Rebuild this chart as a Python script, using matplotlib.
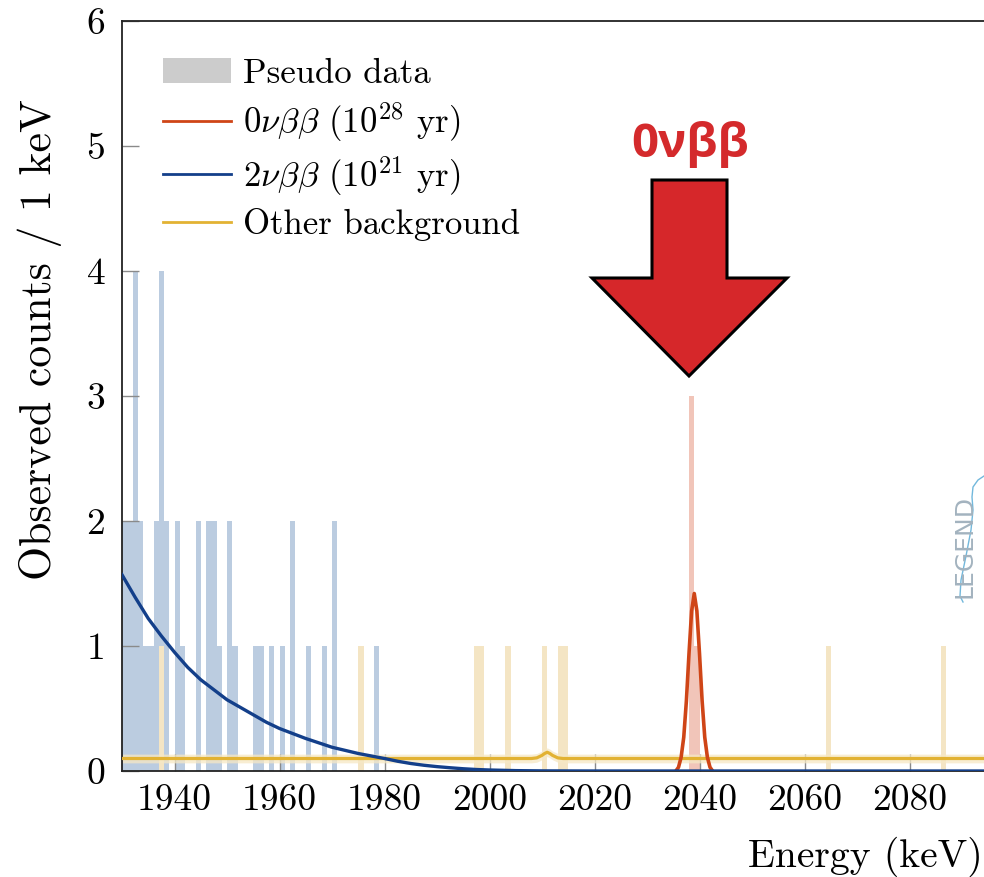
import numpy as np
import matplotlib
matplotlib.use("Agg")
import matplotlib.pyplot as plt
from matplotlib.patches import Polygon, Patch
from matplotlib.lines import Line2D

plt.rcParams['font.family'] = 'serif'
plt.rcParams['font.serif'] = ['cmr10']
plt.rcParams['mathtext.fontset'] = 'cm'
plt.rcParams['axes.unicode_minus'] = False

# ---- data ----
# pseudo-data counts per 1 keV bin (left bin edge), split by event origin
bins_2nbb = [1930, 1931, 1932, 1933, 1934, 1935, 1936, 1937, 1938, 1940, 1941, 1944,
             1946, 1947, 1948, 1950, 1951, 1955, 1956, 1958, 1960, 1962, 1965, 1968,
             1970, 1978]
counts_2nbb = [2, 2, 4, 2, 1, 1, 2, 3, 2, 2, 1, 2,
               2, 2, 1, 2, 1, 1, 1, 1, 1, 2, 1, 1,
               2, 1]
bins_bkg = [1937, 1975, 1997, 1998, 2003, 2010, 2013, 2014, 2064, 2086]
counts_bkg = [1, 1, 1, 1, 1, 1, 1, 1, 1, 1]
bins_0nbb = [2038, 2039]
counts_0nbb = [3, 1]

# model curves
E_2nbb = [1930, 1932.5, 1935, 1937.5, 1940, 1942.5, 1945, 1947.5, 1950, 1952.5, 1955,
          1957.5, 1960, 1962.5, 1965, 1967.5, 1970, 1972.5, 1975, 1977.5, 1980, 1982.5,
          1985, 1987.5, 1990, 1992.5, 1995, 1997.5, 2000, 2005, 2010, 2020, 2095]
y_2nbb = [1.57, 1.39, 1.22, 1.08, 0.95, 0.83, 0.73, 0.65, 0.57, 0.51, 0.45,
          0.39, 0.34, 0.30, 0.26, 0.225, 0.19, 0.165, 0.14, 0.12, 0.10, 0.078,
          0.06, 0.046, 0.035, 0.026, 0.018, 0.012, 0.008, 0.003, 0.001, 0.0, 0.0]
E_0nbb = [2035.5, 2036, 2036.5, 2037, 2037.5, 2038, 2038.5, 2039, 2039.5, 2040,
          2040.5, 2041, 2041.5, 2042, 2042.5]
y_0nbb = [0.0, 0.03, 0.11, 0.27, 0.56, 0.94, 1.28, 1.42, 1.28, 0.94,
          0.56, 0.27, 0.11, 0.03, 0.0]
E_bkg = [1930, 2008, 2009, 2010, 2010.5, 2011, 2011.5, 2012, 2013, 2014, 2095]
y_bkg = [0.1, 0.1, 0.105, 0.125, 0.14, 0.15, 0.14, 0.125, 0.105, 0.1, 0.1]
band_halfwidth = 0.035

x_ticks = [1940, 1960, 1980, 2000, 2020, 2040, 2060, 2080]
y_ticks = [0, 1, 2, 3, 4, 5, 6]

legend_labels = ["Pseudo data", r"$0\nu\beta\beta$ ($10^{28}$ yr)",
                 r"$2\nu\beta\beta$ ($10^{21}$ yr)", "Other background"]

# ---- colours ----
c_blue_bar = '#bbcce0'
c_yel_bar = '#f4e5c4'
c_red_bar = '#f1c5b9'
c_blue = '#133f8a'
c_red = '#cf4517'
c_yel = '#e2b233'
c_band = '#f6e8c4'

W, H = 984, 877
fig = plt.figure(figsize=(W / 100, H / 100), dpi=100)
ax = fig.add_axes([122 / W, 1 - 771 / H, (W - 122) / W, (771 - 21) / H])

# stacked histogram: background at bottom, then 2nbb, then 0nbb
bkg_lookup = dict(zip(bins_bkg, counts_bkg))
base_2nbb = [bkg_lookup.get(b, 0) for b in bins_2nbb]
ax.bar(bins_bkg, counts_bkg, width=1, align='edge', color=c_yel_bar, lw=0, zorder=1)
ax.bar(bins_2nbb, counts_2nbb, width=1, align='edge', bottom=base_2nbb,
       color=c_blue_bar, lw=0, zorder=1)
ax.bar(bins_0nbb, counts_0nbb, width=1, align='edge', color=c_red_bar, lw=0, zorder=1)

# background band + curves
yb = np.array(y_bkg)
ax.fill_between(E_bkg, yb - band_halfwidth, yb + band_halfwidth, color=c_band,
                alpha=0.75, lw=0, zorder=2)
ax.plot(E_bkg, y_bkg, color=c_yel, lw=2.3, zorder=3, solid_capstyle='butt')
ax.plot(E_0nbb, y_0nbb, color=c_red, lw=2.6, zorder=4)
ax.plot(E_2nbb, y_2nbb, color=c_blue, lw=2.4, zorder=5)

ax.set_xlim(1930, 1930 + (W - 122) / 5.25)
ax.set_ylim(0, 6)
ax.set_xticks(x_ticks)
ax.set_yticks(y_ticks)
ax.tick_params(axis='both', direction='in', length=12, width=1, color='#8a8a8a',
               labelsize=27, top=False, right=False)
ax.tick_params(axis='x', pad=9)
ax.tick_params(axis='y', pad=12)
for s in ['left', 'top', 'bottom']:
    ax.spines[s].set_linewidth(1.3)
    ax.spines[s].set_color('#222222')
ax.spines['right'].set_visible(False)

# legend
handles = [Patch(facecolor='#cccccc', edgecolor='none'),
           Line2D([], [], color=c_red, lw=2),
           Line2D([], [], color=c_blue, lw=2),
           Line2D([], [], color=c_yel, lw=2)]
ax.legend(handles, legend_labels, loc='upper left',
          bbox_to_anchor=((163 - 122) / (W - 122), (771 - 58) / 750),
          frameon=False, fontsize=25, handlelength=1.95, handleheight=0.7,
          handletextpad=0.35, labelspacing=0.3, borderpad=0, borderaxespad=0)

# axis labels
fig.text(0.999, 1 - 857 / H, "Energy (keV)", ha='right', va='center', fontsize=28.5)
fig.text(40 / W, 1 - 340 / H, "Observed counts / 1 keV", ha='center', va='center',
         rotation=90, fontsize=31.5)

# big red arrow annotation
arrow_px = [(652, 180), (727, 180), (727, 278), (787, 278), (689, 376),
            (592, 278), (652, 278)]
poly = Polygon([(x / W, 1 - y / H) for x, y in arrow_px], closed=True,
               transform=fig.transFigure, facecolor='#d6272a', edgecolor='black',
               lw=2.2, joinstyle='miter', zorder=10)
fig.add_artist(poly)
fig.text(690 / W, 1 - 145 / H, "0νββ", ha='center', va='center', fontsize=34,
         fontweight='bold', color='#d42a2c', family=['Open Sans', 'DejaVu Sans'])

# LEGEND logo (watermark)
fig.text(965 / W, 1 - 546 / H, "LEGEND", rotation=90, ha='center', va='center',
         fontsize=18, color='#a3b3bf', family=['DejaVu Sans'])
wave_px = [(984, 476), (978, 480), (973, 487), (972, 497), (973, 510), (971, 530),
           (966, 556), (961, 580), (960, 596), (963, 602)]
fig.add_artist(Line2D([x / W for x, y in wave_px], [1 - y / H for x, y in wave_px],
                      transform=fig.transFigure, color='#72b8dc', lw=1.0))

fig.savefig("out.png", dpi=100)
